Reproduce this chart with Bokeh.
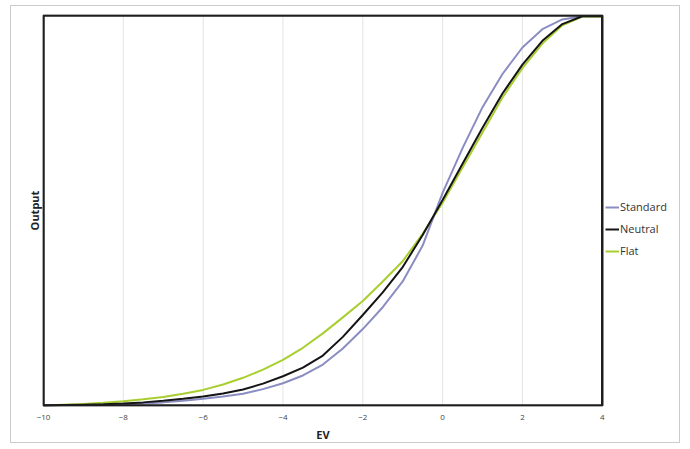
from bokeh.plotting import figure
from bokeh.models import Range1d, Legend, LegendItem, FixedTicker, LinearAxis
from bokeh.embed import file_html
from bokeh.resources import INLINE

# ---- data ----
ev = [-10.0, -9.5, -9.0, -8.5, -8.0, -7.5, -7.0, -6.5, -6.0, -5.5, -5.0, -4.5,
      -4.0, -3.5, -3.0, -2.5, -2.0, -1.5, -1.0, -0.5, 0.0, 0.5, 1.0, 1.5,
      2.0, 2.5, 3.0, 3.5, 4.0]
standard = [0.000, 0.001, 0.001, 0.002, 0.003, 0.005, 0.008, 0.012, 0.017, 0.023,
            0.030, 0.042, 0.057, 0.077, 0.105, 0.146, 0.196, 0.252, 0.318, 0.410,
            0.545, 0.660, 0.765, 0.850, 0.918, 0.965, 0.990, 0.998, 0.998]
neutral = [0.000, 0.001, 0.002, 0.003, 0.005, 0.008, 0.012, 0.017, 0.023, 0.031,
           0.041, 0.056, 0.075, 0.097, 0.128, 0.176, 0.232, 0.290, 0.355, 0.437,
           0.527, 0.620, 0.712, 0.800, 0.874, 0.935, 0.978, 0.998, 0.998]
flat = [0.000, 0.002, 0.004, 0.007, 0.011, 0.016, 0.022, 0.030, 0.040, 0.054,
        0.071, 0.092, 0.117, 0.148, 0.185, 0.226, 0.268, 0.318, 0.370, 0.440,
        0.520, 0.610, 0.700, 0.790, 0.865, 0.928, 0.975, 0.997, 0.997]
x_ticks = [-10, -8, -6, -4, -2, 0, 2, 4]
grid_ticks = [-8, -6, -4, -2, 0, 2]
series_names = ["Standard", "Neutral", "Flat"]
x_min, x_max = -10, 4
y_min, y_max = 0, 1

FONT = "Open Sans"

# frame: 637 px wide, 391 px tall; data box -10..4 x 0..1 occupies 557 x 389 px
px_x = 557 / (x_max - x_min)
px_y = 389 / (y_max - y_min)
x_range = Range1d(x_min - 1 / px_x, x_max + 79 / px_x)
y_range = Range1d(y_min - 1 / px_y, y_max + 1 / px_y)

p = figure(width=670, height=438, output_backend="svg", toolbar_location=None,
           x_range=x_range, y_range=y_range,
           min_border_left=31, min_border_right=0, min_border_top=8,
           min_border_bottom=37)
p.styles = {"border": "1px solid #cccccc", "margin-left": "10px", "margin-top": "5px"}

p.outline_line_color = None
p.background_fill_color = "white"
p.border_fill_color = "white"
p.grid.grid_line_color = None

# vertical grid lines inside the data box
p.segment(x0=grid_ticks, x1=grid_ticks, y0=[y_min] * len(grid_ticks),
          y1=[y_max] * len(grid_ticks), line_color="#e4e4e4", line_width=1)

# x axis (tick labels)
p.xaxis.ticker = FixedTicker(ticks=x_ticks)
p.xaxis.axis_line_color = None
p.xaxis.major_tick_line_color = None
p.xaxis.minor_tick_line_color = None
p.xaxis.major_tick_out = 0
p.xaxis.major_tick_in = 0
p.xaxis.minor_tick_out = 0
p.xaxis.major_label_text_font = FONT
p.xaxis.major_label_text_font_size = "8px"
p.xaxis.major_label_text_color = "#444444"
p.xaxis.major_label_standoff = 8

# x axis title, centred under the data box
ev_axis = LinearAxis(ticker=FixedTicker(ticks=[(x_min + x_max) / 2]),
                     major_label_overrides={(x_min + x_max) / 2: "EV"})
ev_axis.axis_line_color = None
ev_axis.major_tick_line_color = None
ev_axis.minor_tick_line_color = None
ev_axis.major_tick_out = 0
ev_axis.major_tick_in = 0
ev_axis.minor_tick_out = 0
ev_axis.major_label_text_font = FONT
ev_axis.major_label_text_font_size = "11px"
ev_axis.major_label_text_font_style = "bold"
ev_axis.major_label_text_color = "#222222"
ev_axis.major_label_standoff = 4
p.add_layout(ev_axis, "below")

# y axis
p.yaxis.ticker = FixedTicker(ticks=[])
p.yaxis.axis_line_color = None
p.yaxis.major_tick_line_color = None
p.yaxis.minor_tick_line_color = None
p.yaxis.major_tick_out = 0
p.yaxis.major_tick_in = 0
p.yaxis.minor_tick_out = 0
p.yaxis.axis_label = "Output"
p.yaxis.axis_label_text_font = FONT
p.yaxis.axis_label_text_font_size = "11px"
p.yaxis.axis_label_text_font_style = "bold"
p.yaxis.axis_label_text_color = "#222222"
p.yaxis.axis_label_standoff = 1

r_flat = p.line(ev, flat, line_color="#a8cf2f", line_width=2)
r_std = p.line(ev, standard, line_color="#8a8dc2", line_width=2)
r_neu = p.line(ev, neutral, line_color="#151515", line_width=2)

# plot-area frame
p.quad(left=[x_min], right=[x_max], bottom=[y_min], top=[y_max],
       fill_color=None, line_color="#1e1e1e", line_width=2.5)

legend = Legend(items=[LegendItem(label=series_names[0], renderers=[r_std]),
                       LegendItem(label=series_names[1], renderers=[r_neu]),
                       LegendItem(label=series_names[2], renderers=[r_flat])],
                location=(563, 148))
legend.border_line_color = None
legend.background_fill_alpha = 0
legend.label_text_font = FONT
legend.label_text_font_size = "11px"
legend.label_text_color = "#333333"
legend.glyph_width = 14
legend.glyph_height = 12
legend.label_standoff = 1
legend.spacing = 7
legend.padding = 2
legend.margin = 0
p.add_layout(legend, "center")

open("out.html", "w").write(file_html(p, INLINE))
